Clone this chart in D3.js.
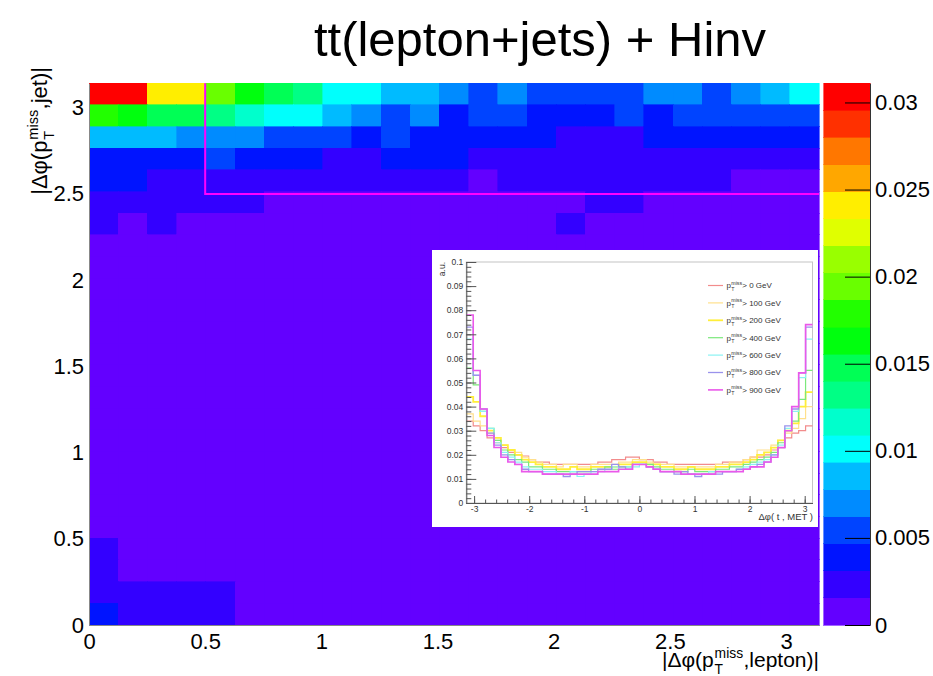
<!DOCTYPE html>
<html>
<head>
<meta charset="utf-8">
<script src="https://cdn.jsdelivr.net/npm/d3@7/dist/d3.min.js"></script>
<style>
body{margin:0;background:#fff;}
svg{display:block;font-family:"Liberation Sans",Arial,Helvetica,sans-serif;}
</style>
</head>
<body>
<svg id="chart" width="933" height="676"></svg>
<script>
// 2D histogram, 25x25 bins in |dphi(met,lepton)| x |dphi(met,jet)|, rows listed from the top (y bin 24) down
var heatRows = [
    [.0305,.0300,.0243,.0239,.0195,.0165,.0149,.0131,.0103,.0100,.0088,.0084,.0071,.0055,.0072,.0053,.0056,.0054,.0057,.0069,.0071,.0058,.0068,.0086,.0104],
    [.0180,.0164,.0150,.0146,.0133,.0118,.0102,.0100,.0087,.0070,.0056,.0071,.0040,.0054,.0052,.0041,.0038,.0040,.0055,.0042,.0053,.0054,.0052,.0055,.0053],
    [.0088,.0086,.0085,.0070,.0072,.0069,.0055,.0053,.0054,.0040,.0054,.0041,.0039,.0040,.0038,.0040,.0026,.0028,.0029,.0039,.0040,.0041,.0039,.0040,.0042],
    [.0040,.0039,.0041,.0038,.0054,.0040,.0038,.0039,.0027,.0029,.0039,.0040,.0038,.0028,.0026,.0027,.0029,.0027,.0028,.0026,.0027,.0028,.0025,.0026,.0027],
    [.0038,.0037,.0026,.0025,.0024,.0025,.0023,.0024,.0022,.0023,.0024,.0022,.0021,.0014,.0021,.0022,.0023,.0021,.0022,.0020,.0021,.0019,.0014,.0013,.0014],
    [.0021,.0020,.0019,.0019,.0018,.0017,.0015,.0014,.0014,.0013,.0013,.0012,.0013,.0012,.0012,.0013,.0014,.0017,.0016,.0013,.0012,.0012,.0011,.0012,.0013],
    [.0016,.0013,.0016,.0012,.0011,.0010,.0010,.0011,.0010,.0010,.0009,.0010,.0010,.0011,.0010,.0011,.0016,.0012,.0011,.0010,.0010,.0009,.0010,.0010,.0011],
    [.0012,.0011,.0012,.0010,.0010,.0009,.0009,.0010,.0009,.0009,.0009,.0008,.0009,.0009,.0009,.0010,.0010,.0010,.0009,.0009,.0009,.0008,.0009,.0009,.0010],
    [.0011,.0010,.0010,.0009,.0009,.0009,.0008,.0009,.0008,.0008,.0008,.0008,.0008,.0008,.0009,.0008,.0009,.0009,.0008,.0008,.0008,.0008,.0008,.0009,.0009],
    [.0010,.0010,.0009,.0009,.0008,.0008,.0008,.0008,.0008,.0008,.0007,.0008,.0008,.0008,.0008,.0008,.0008,.0008,.0008,.0008,.0008,.0008,.0008,.0008,.0009],
    [.0010,.0009,.0009,.0008,.0008,.0008,.0008,.0007,.0008,.0007,.0007,.0007,.0008,.0007,.0007,.0008,.0008,.0007,.0008,.0007,.0008,.0007,.0008,.0008,.0008],
    [.0009,.0009,.0008,.0008,.0008,.0007,.0007,.0007,.0007,.0007,.0007,.0007,.0007,.0007,.0007,.0007,.0007,.0007,.0007,.0007,.0007,.0007,.0007,.0008,.0008],
    [.0009,.0008,.0008,.0008,.0007,.0007,.0007,.0007,.0007,.0007,.0007,.0007,.0007,.0007,.0007,.0007,.0007,.0007,.0007,.0007,.0007,.0007,.0007,.0007,.0008],
    [.0009,.0008,.0008,.0007,.0007,.0007,.0007,.0007,.0006,.0007,.0006,.0007,.0007,.0006,.0007,.0007,.0006,.0007,.0007,.0006,.0007,.0007,.0007,.0007,.0007],
    [.0009,.0008,.0008,.0007,.0007,.0007,.0006,.0006,.0007,.0006,.0006,.0006,.0006,.0007,.0006,.0006,.0007,.0006,.0006,.0007,.0006,.0006,.0007,.0007,.0007],
    [.0009,.0008,.0007,.0007,.0007,.0006,.0006,.0006,.0006,.0006,.0006,.0006,.0006,.0006,.0006,.0006,.0006,.0006,.0006,.0006,.0006,.0006,.0006,.0007,.0007],
    [.0010,.0008,.0007,.0007,.0007,.0006,.0006,.0006,.0006,.0006,.0006,.0006,.0006,.0006,.0006,.0006,.0006,.0006,.0006,.0006,.0006,.0006,.0006,.0006,.0007],
    [.0011,.0009,.0008,.0007,.0007,.0007,.0006,.0006,.0006,.0006,.0006,.0006,.0006,.0006,.0006,.0006,.0006,.0006,.0006,.0006,.0006,.0006,.0006,.0006,.0007],
    [.0012,.0009,.0008,.0008,.0007,.0007,.0006,.0006,.0006,.0006,.0006,.0005,.0006,.0006,.0006,.0006,.0006,.0005,.0006,.0006,.0006,.0006,.0006,.0006,.0007],
    [.0014,.0010,.0009,.0008,.0008,.0007,.0007,.0006,.0006,.0006,.0006,.0006,.0006,.0006,.0006,.0006,.0006,.0006,.0006,.0006,.0006,.0006,.0006,.0007,.0007],
    [.0015,.0011,.0010,.0009,.0008,.0008,.0007,.0007,.0006,.0006,.0006,.0006,.0006,.0006,.0006,.0006,.0006,.0006,.0006,.0006,.0006,.0006,.0006,.0007,.0007],
    [.0017,.0012,.0010,.0009,.0009,.0008,.0007,.0007,.0007,.0007,.0006,.0006,.0007,.0006,.0006,.0006,.0006,.0006,.0006,.0007,.0006,.0006,.0006,.0007,.0007],
    [.0018,.0012,.0011,.0010,.0009,.0008,.0007,.0007,.0007,.0006,.0006,.0007,.0006,.0006,.0006,.0006,.0006,.0007,.0006,.0006,.0006,.0006,.0006,.0007,.0007],
    [.0021,.0019,.0018,.0017,.0017,.0012,.0010,.0009,.0008,.0008,.0007,.0007,.0007,.0007,.0007,.0007,.0007,.0007,.0007,.0007,.0007,.0007,.0007,.0007,.0008],
    [.0040,.0024,.0022,.0020,.0019,.0013,.0011,.0010,.0009,.0009,.0008,.0008,.0008,.0008,.0008,.0008,.0008,.0008,.0008,.0008,.0008,.0008,.0008,.0008,.0009]
];
var nBins = 25;
var zMax = 0.0311;
var nLevels = 20;
var axisTicks = [0,0.5,1,1.5,2,2.5,3];
var zTicks = [0,0.005,0.01,0.015,0.02,0.025,0.03];
// signal region cut drawn in magenta
var cutLepton = 0.5;
var cutJet = 2.5;

// inset: dphi(t,MET) for several met cuts, 50 bins from -pi to pi
var insetCuts = ["0","100","200","400","600","800","900"];
var h0 = [.034,.032,.030,.027,.025,.023,.021,.020,.0195,.018,.017,.017,.016,.016,.016,.016,.016,.016,.016,.017,.017,.018,.018,.019,.019,
          .018,.018,.017,.017,.016,.016,.016,.016,.016,.016,.016,.016,.017,.017,.017,.018,.019,.019,.020,.022,.023,.027,.029,.030,.032];
var h100 = [.037,.034,.032,.029,.026,.024,.022,.021,.019,.018,.017,.016,.016,.015,.016,.016,.015,.015,.016,.016,.016,.016,.017,.017,.018,
            .018,.017,.016,.016,.016,.015,.015,.015,.015,.015,.015,.016,.016,.017,.017,.018,.019,.022,.022,.024,.026,.029,.031,.035,.040];
var h200 = [.044,.042,.036,.030,.027,.024,.022,.020,.018,.017,.016,.015,.015,.014,.014,.015,.014,.014,.015,.015,.015,.015,.016,.016,.017,
            .017,.016,.016,.015,.015,.014,.014,.015,.014,.014,.014,.015,.015,.016,.016,.017,.018,.020,.021,.023,.026,.030,.033,.040,.046];
var h400 = [.056,.049,.038,.031,.026,.022,.020,.018,.017,.015,.015,.014,.014,.013,.013,.013,.013,.013,.014,.014,.015,.014,.015,.015,.016,
            .016,.016,.015,.014,.014,.013,.013,.014,.013,.013,.013,.014,.014,.015,.015,.016,.017,.018,.019,.021,.025,.030,.034,.043,.055];
var h600 = [.068,.053,.038,.031,.025,.021,.019,.017,.015,.014,.014,.013,.013,.012,.012,.013,.011,.012,.013,.013,.014,.015,.014,.015,.015,
            .016,.015,.014,.013,.013,.013,.012,.012,.012,.012,.013,.013,.013,.013,.014,.015,.016,.017,.018,.020,.024,.031,.038,.052,.068];
var h800 = [.073,.053,.039,.029,.024,.020,.018,.016,.014,.013,.013,.012,.012,.012,.011,.012,.013,.013,.013,.014,.014,.016,.015,.014,.016,
            .016,.015,.014,.013,.013,.012,.013,.012,.011,.012,.012,.012,.013,.013,.014,.014,.015,.016,.017,.020,.023,.032,.039,.054,.073];
var h900 = [.078,.055,.039,.028,.023,.019,.017,.016,.013,.013,.013,.012,.012,.012,.012,.012,.012,.012,.012,.013,.013,.013,.014,.014,.016,
            .016,.015,.014,.013,.013,.013,.012,.012,.012,.012,.012,.013,.013,.013,.013,.014,.015,.015,.017,.019,.023,.030,.040,.054,.074];
var insetXTicks = [-3,-2,-1,0,1,2,3];
var insetYTicks = [0,0.01,0.02,0.03,0.04,0.05,0.06,0.07,0.08,0.09,0.1];

var svg = d3.select("#chart");
var frame = {left:89, right:819, top:83.3, bottom:625};

/**
* Draws a label like |dphi(p_T^miss,xxx)| with the sub/superscript stacked after the p
* @param {object} g group to draw in, origin is the start of the baseline
* @param {number} size font size of the main text
* @returns {number} width of the label
*/
function scriptLabel( g, pre, sup, sub, post, size ){
    var small = size*0.66;
    var t1 = g.append("text").attr("x",0).attr("y",0).style("font-size",size+"px").text(pre);
    var w1 = t1.node().getComputedTextLength();
    var ts = g.append("text").attr("x",w1+size*0.04).attr("y",-size*0.42).style("font-size",small+"px").text(sup);
    var tb = g.append("text").attr("x",w1+size*0.04).attr("y",size*0.32).style("font-size",small+"px").text(sub);
    var w2 = Math.max(ts.node().getComputedTextLength(),tb.node().getComputedTextLength())+size*0.06;
    var t3 = g.append("text").attr("x",w1+w2).attr("y",0).style("font-size",size+"px").text(post);
    return w1+w2+t3.node().getComputedTextLength();
}

// ---- main 2D histogram ----
var x = d3.scaleLinear().domain([0,Math.PI]).range([frame.left,frame.right]);
var y = d3.scaleLinear().domain([0,Math.PI]).range([frame.bottom,frame.top]);
//ROOT "pretty" palette: 50 hues from 280 down to 0, 20 contours
var palette = d3.range(nLevels).map(function(k){
    var idx = Math.floor((k+0.99)*50/nLevels);
    return d3.hsl(280-(idx+1)*280/50,1,0.5).formatHex();
});
var z = d3.scaleQuantize().domain([0,zMax]).range(palette);
var binW = Math.PI/nBins;

var cells = [];
heatRows.forEach(function(row,r){
    row.forEach(function(v,i){
        cells.push({ix:i, iy:nBins-1-r, v:v});
    });
});
svg.append("g")
    .attr("shape-rendering","crispEdges")
    .selectAll("rect")
    .data(cells)
    .enter()
    .append("rect")
    .attr("x",function(d){ return x(d.ix*binW); })
    .attr("y",function(d){ return y((d.iy+1)*binW); })
    .attr("width",function(d){ return x((d.ix+1)*binW)-x(d.ix*binW); })
    .attr("height",function(d){ return y(d.iy*binW)-y((d.iy+1)*binW); })
    .attr("fill",function(d){ return z(d.v); })
    .attr("stroke",function(d){ return z(d.v); })
    .attr("stroke-width",0.6);

svg.append("path")
    .attr("d",d3.line()([[x(cutLepton),y(Math.PI)],[x(cutLepton),y(cutJet)],[x(Math.PI),y(cutJet)]]))
    .attr("fill","none")
    .attr("stroke","#ff00ff")
    .attr("stroke-width",2);

var xAxis = svg.append("g")
    .attr("transform","translate(0,"+frame.bottom+")")
    .call(d3.axisBottom(x).tickValues(axisTicks).tickSize(0).tickPadding(8).tickFormat(String));
var yAxis = svg.append("g")
    .attr("transform","translate("+frame.left+",0)")
    .call(d3.axisLeft(y).tickValues(axisTicks).tickSize(0).tickPadding(5).tickFormat(String));
[xAxis,yAxis].forEach(function(a){
    a.attr("font-family",null).attr("font-size",null);
    a.selectAll("text").style("font-size","22px").attr("fill","#000");
    a.select(".domain").attr("stroke","#888");
});

// palette
var zs = d3.scaleLinear().domain([0,zMax]).range([frame.bottom,frame.top]);
var palLeft = 823.5, palRight = 870;
svg.append("g")
    .attr("shape-rendering","crispEdges")
    .selectAll("rect")
    .data(palette)
    .enter()
    .append("rect")
    .attr("x",palLeft)
    .attr("width",palRight-palLeft)
    .attr("y",function(c,k){ return zs((k+1)*zMax/nLevels); })
    .attr("height",function(c,k){ return zs(k*zMax/nLevels)-zs((k+1)*zMax/nLevels); })
    .attr("fill",function(c){ return c; })
    .attr("stroke",function(c){ return c; })
    .attr("stroke-width",0.6);
var zAxis = svg.append("g")
    .attr("transform","translate("+palRight+",0)")
    .call(d3.axisRight(zs).tickValues(zTicks).tickSize(-25).tickSizeOuter(0).tickPadding(5).tickFormat(String));
zAxis.attr("font-family",null).attr("font-size",null);
zAxis.selectAll("text").style("font-size","22px").attr("fill","#000");
zAxis.selectAll("line").attr("stroke","#000");
zAxis.select(".domain").attr("stroke","#333");

// titles
svg.append("text")
    .attr("x",540)
    .attr("y",56)
    .attr("text-anchor","middle")
    .style("font-size","49px")
    .text("tt(lepton+jets) + Hinv");

var xt = svg.append("g");
var xtw = scriptLabel(xt,"|\u0394\u03c6(p","miss","T",",lepton)|",21);
xt.attr("transform","translate("+(frame.right-xtw)+",667)");

var yt = svg.append("g");
var ytw = scriptLabel(yt,"|\u0394\u03c6(p","miss","T",",jet)|",22);
yt.attr("transform","translate(47,67) rotate(-90) translate("+(-ytw)+",0)");

// ---- inset ----
var inset = svg.append("g");
inset.append("rect")
    .attr("x",432)
    .attr("y",250)
    .attr("width",386)
    .attr("height",277)
    .attr("fill","#fff");
var ix = d3.scaleLinear().domain([-Math.PI,Math.PI]).range([466.3,812.5]);
var iy = d3.scaleLinear().domain([0,0.1]).range([503,262]);

inset.append("rect")
    .attr("x",ix(-Math.PI))
    .attr("y",iy(0.1))
    .attr("width",ix(Math.PI)-ix(-Math.PI))
    .attr("height",iy(0)-iy(0.1))
    .attr("fill","none")
    .attr("stroke","#c4c4c4");

var insetSeries = [
    {cut:insetCuts[0], values:h0, color:"#f28c8c", width:1.2},
    {cut:insetCuts[1], values:h100, color:"#ffe08c", width:1.2},
    {cut:insetCuts[2], values:h200, color:"#ffee3a", width:1.8},
    {cut:insetCuts[3], values:h400, color:"#7be87b", width:1.2},
    {cut:insetCuts[4], values:h600, color:"#8af2f2", width:1.2},
    {cut:insetCuts[5], values:h800, color:"#9a92ec", width:1.3},
    {cut:insetCuts[6], values:h900, color:"#ea58ea", width:1.6}
];
var hw = 2*Math.PI/h0.length;
var step = d3.line().curve(d3.curveStepAfter);
insetSeries.forEach(function(s){
    var pts = s.values.map(function(v,i){ return [ix(-Math.PI+i*hw),iy(v)]; });
    pts.push([ix(Math.PI),iy(s.values[s.values.length-1])]);
    inset.append("path")
        .attr("d",step(pts))
        .attr("fill","none")
        .attr("stroke",s.color)
        .attr("stroke-width",s.width);
});

var iyAxis = inset.append("g")
    .attr("transform","translate("+ix(-Math.PI)+",0)")
    .call(d3.axisLeft(iy).tickValues(insetYTicks).tickSize(-10).tickSizeOuter(0).tickPadding(3)
        .tickFormat(function(d){ return String(+d.toFixed(2)); }));
inset.append("g")
    .attr("transform","translate("+ix(-Math.PI)+",0)")
    .call(d3.axisLeft(iy).tickValues(d3.range(0,51).map(function(i){ return i*0.002; })).tickSize(-5).tickSizeOuter(0).tickFormat(""))
    .select(".domain").remove();
var ixAxis = inset.append("g")
    .attr("transform","translate(0,"+iy(0)+")")
    .call(d3.axisBottom(ix).tickValues(insetXTicks).tickSize(-7).tickSizeOuter(0).tickPadding(3).tickFormat(String));
inset.append("g")
    .attr("transform","translate(0,"+iy(0)+")")
    .call(d3.axisBottom(ix).tickValues(d3.range(-15,16).map(function(i){ return i*0.2; })).tickSize(-3.5).tickSizeOuter(0).tickFormat(""))
    .select(".domain").remove();
inset.selectAll(".tick line").attr("stroke","#555");
[iyAxis,ixAxis].forEach(function(a){
    a.attr("font-family",null).attr("font-size",null);
    a.selectAll("text").style("font-size","8.5px").attr("fill","#333");
    a.select(".domain").attr("stroke","#555");
});
inset.append("text")
    .attr("transform","translate(445,262) rotate(-90)")
    .attr("text-anchor","end")
    .style("font-size","8.5px")
    .attr("fill","#333")
    .text("a.u.");
inset.append("text")
    .attr("x",813)
    .attr("y",520)
    .attr("text-anchor","end")
    .style("font-size","9.5px")
    .attr("fill","#333")
    .text("\u0394\u03c6( t , MET )");

// legend
insetSeries.forEach(function(s,i){
    var ly = 285.5+i*17.4;
    inset.append("line")
        .attr("x1",708)
        .attr("x2",723)
        .attr("y1",ly)
        .attr("y2",ly)
        .attr("stroke",s.color)
        .attr("stroke-width",s.width);
    var lg = inset.append("g").attr("fill","#333");
    scriptLabel(lg,"p","miss","T"," > "+s.cut+" GeV",8);
    lg.attr("transform","translate(726.5,"+(ly+2.8)+")");
});
</script>
</body>
</html>
